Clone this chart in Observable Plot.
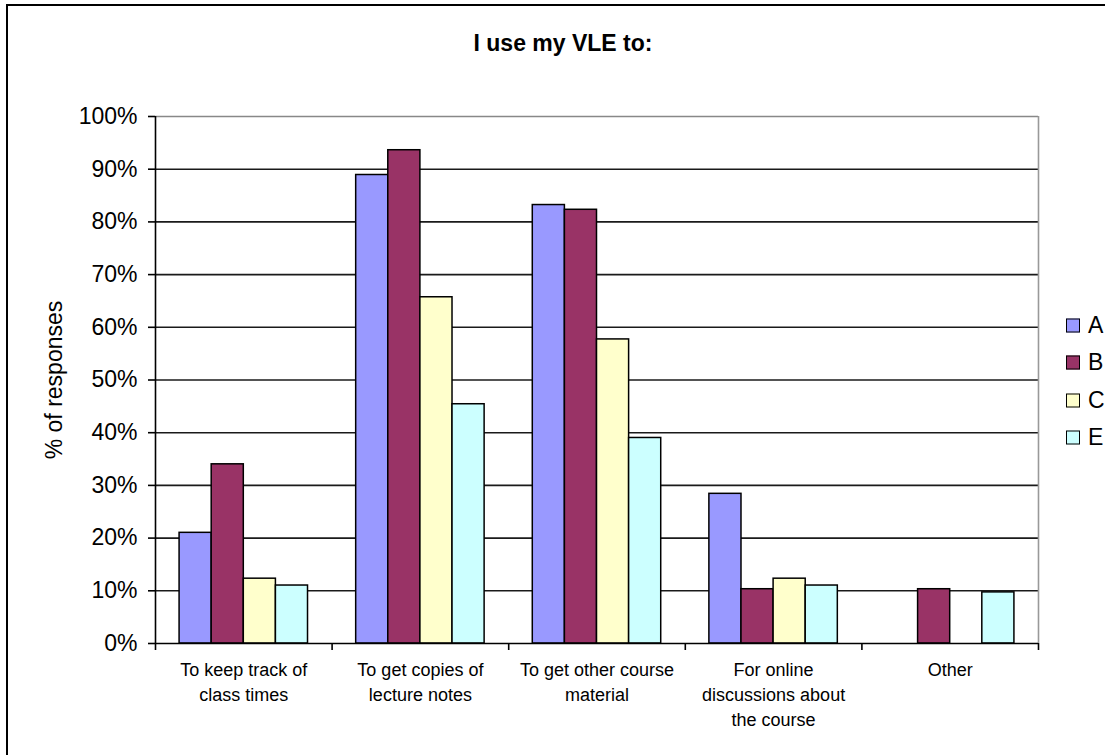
<!DOCTYPE html>
<html><head><meta charset="utf-8">
<script src="https://cdn.jsdelivr.net/npm/d3@7"></script>
<script src="https://cdn.jsdelivr.net/npm/@observablehq/plot@0.6"></script>
<style>
html,body{margin:0;padding:0;background:#fff;overflow:hidden;}
#wrap{position:relative;width:1105px;height:755px;font-family:Arial,"Liberation Sans",sans-serif;color:#000;overflow:hidden;}
#frame{position:absolute;left:6px;top:4px;width:1200px;height:900px;border:2px solid #000;box-sizing:border-box;pointer-events:none;}
#chart{position:absolute;left:0;top:0;}
#title{position:absolute;left:563px;top:32px;transform:translateX(-50%);font-weight:bold;font-size:23px;line-height:23px;white-space:nowrap;}
#ylabel{position:absolute;left:54px;top:380px;transform:translate(-50%,-50%) rotate(-90deg);font-size:23px;line-height:23px;white-space:nowrap;}
#legend{position:absolute;left:1066px;top:0;}
.li{position:absolute;left:0;display:flex;align-items:center;white-space:nowrap;font-size:23px;line-height:23px;transform:translateY(-50%);}
.sw{width:12px;height:12px;border:1.5px solid #000;margin-right:8px;flex:none;}
</style>
</head><body>
<div id="wrap">
  <div id="chart"></div>
  <div id="frame"></div>
  <div id="title">I use my VLE to:</div>
  <div id="ylabel">% of responses</div>
  <div id="legend"></div>
</div>
<script>
const categories = [
  "To keep track of\nclass times",
  "To get copies of\nlecture notes",
  "To get other course\nmaterial",
  "For online\ndiscussions about\nthe course",
  "Other"
];
const series = ["A", "B", "C", "E"];
const seriesColors = ["#9999FF", "#993366", "#FFFFCC", "#CCFFFF"];
const valuesA = [21.0, 88.9, 83.2, 28.4, null];
const valuesB = [34.0, 93.6, 82.3, 10.3, 10.3];
const valuesC = [12.3, 65.7, 57.7, 12.3, null];
const valuesE = [11.0, 45.4, 39.0, 11.0, 9.7];
const yTicks = [0, 10, 20, 30, 40, 50, 60, 70, 80, 90, 100];
const gridValues = [10, 20, 30, 40, 50, 60, 70, 80, 90];

const valueLists = [valuesA, valuesB, valuesC, valuesE];
const slots = series.length + 1.5; // Excel gap width 150%
const rows = [];
categories.forEach((c, i) => {
  series.forEach((s, k) => {
    const v = valueLists[k][i];
    if (v == null) return;
    rows.push({cat: i, series: s, value: v,
      x1: i + (0.75 + k) / slots, x2: i + (0.75 + k + 1) / slots});
  });
});

const plot = Plot.plot({
  width: 1105,
  height: 755,
  marginLeft: 155,
  marginRight: 67,
  marginTop: 116,
  marginBottom: 112,
  style: {fontFamily: "Arial, 'Liberation Sans', sans-serif", fontSize: "23px", color: "#000", background: "transparent", overflow: "visible"},
  x: {type: "linear", domain: [0, categories.length]},
  y: {domain: [0, 100]},
  color: {domain: series, range: seriesColors},
  marks: [
    Plot.ruleY(gridValues, {stroke: "#1a1a1a", strokeWidth: 1.6}),
    Plot.ruleY([100], {stroke: "#888", strokeWidth: 1.6}),
    Plot.ruleX([categories.length], {stroke: "#999", strokeWidth: 1.6}),
    Plot.rectY(rows, {x1: "x1", x2: "x2", y1: 0, y2: "value", fill: "series", stroke: "#000", strokeWidth: 1.5}),
    Plot.ruleX([0], {stroke: "#000", strokeWidth: 1.6}),
    Plot.ruleY([0], {stroke: "#000", strokeWidth: 1.6}),
    Plot.axisY({ticks: yTicks, tickFormat: d => d + "%", tickSize: 7, tickPadding: 11, label: null, strokeWidth: 1.6}),
    Plot.axisX({ticks: d3.range(categories.length + 1), tickFormat: () => "", tickSize: 7, label: null, strokeWidth: 1.6}),
    Plot.text(categories, {x: (d, i) => i + 0.5, y: 0, text: d => d, lineAnchor: "top", dy: 15, fontSize: 18, lineHeight: 1.39, fill: "#000"})
  ]
});
document.getElementById("chart").appendChild(plot);

const legend = document.getElementById("legend");
const legendY = [325, 362, 400, 437];
series.forEach((s, k) => {
  const item = document.createElement("div");
  item.className = "li";
  item.style.top = legendY[k] + "px";
  const sw = document.createElement("div");
  sw.className = "sw";
  sw.style.background = seriesColors[k];
  item.appendChild(sw);
  item.appendChild(document.createTextNode(s));
  legend.appendChild(item);
});
</script>
</body></html>
